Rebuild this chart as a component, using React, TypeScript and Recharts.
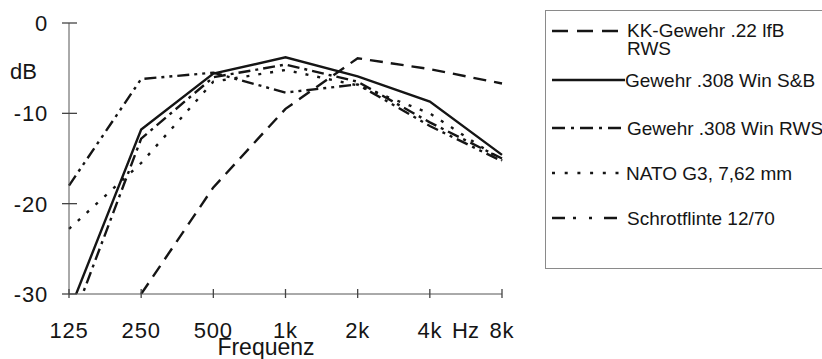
import React from 'react';
import { LineChart, Line, XAxis, YAxis, Label } from 'recharts';

const frequencies = ['125', '250', '500', '1k', '2k', '4k', '8k'];
const kkRws = [null, -30, -18.2, -9.5, -3.9, -5.1, -6.7];
const winSB = [-32, -11.8, -5.6, -3.8, -5.9, -8.7, -14.6];
const winRws = [-34, -12.8, -6.0, -4.6, -6.5, -11.0, -15.0];
const nato = [-22.8, -15.5, -6.5, -5.2, -6.9, -10.0, -15.2];
const schrot = [-18, -6.2, -5.5, -7.7, -6.8, -11.4, -15.3];
const yTicks = [-30, -20, -10, 0];

const seriesNames = [
  'KK-Gewehr .22 lfB RWS',
  'Gewehr .308 Win S&B',
  'Gewehr .308 Win RWS',
  'NATO G3, 7,62 mm',
  'Schrotflinte 12/70',
];
const seriesKeys = ['kk', 'sb', 'rws', 'nato', 'schrot'];
const seriesValues = [kkRws, winSB, winRws, nato, schrot];
const legendLines = [
  ['KK-Gewehr .22 lfB', 'RWS'],
  ['Gewehr .308 Win S&B'],
  ['Gewehr .308 Win RWS'],
  ['NATO G3, 7,62 mm'],
  ['Schrotflinte 12/70'],
];

// styles
const lineDash = ['13 8', undefined, '12 5 3 5', '3 9', '12 5 3 5 3 5'];
const legendDash = ['16 9', undefined, '13 6 3 6', '3 9.7', '13 8 3 13 3 12'];
const legendY = [31, 80, 128, 173, 218];
const legendTextDy = [6, 7, 7, 7, 7];
const legendX2 = [618, 625, 622, 623, 618];
const legendTextX = [627, 625, 627, 626, 627];

const data = frequencies.map((f, i) => {
  const row: Record<string, any> = { freq: f };
  seriesKeys.forEach((k, j) => {
    row[k] = seriesValues[j][i];
  });
  return row;
});

const FONT = '"Liberation Sans", Arial, Helvetica, sans-serif';
const AXIS = '#555555';
const INK = '#151515';

function XTick(props: any) {
  const { x, y, payload } = props;
  return (
    <g className="x-tick">
      <path d={`M${x},${y - 5}L${x},${y + 4}`} stroke="#444" strokeWidth={1.3} fill="none" />
      <text x={x} y={y + 44} textAnchor="middle" fontSize={22} letterSpacing={0.8} fill={INK} fontFamily={FONT}>
        {payload.value}
      </text>
    </g>
  );
}

function YTick(props: any) {
  const { x, y, payload } = props;
  return (
    <g className="y-tick">
      <path d={`M${x - 7},${y}L${x + 8},${y}`} stroke="#444" strokeWidth={1.3} fill="none" />
      <text x={x - 21} y={y + 8} textAnchor="end" fontSize={22} letterSpacing={0.8} fill={INK} fontFamily={FONT}>
        {payload.value}
      </text>
    </g>
  );
}

const YLabel = (props: any) => {
  const vb = props.viewBox || {};
  return (
    <text x={vb.x + 1} y={vb.y + 56} fontSize={22} fill={INK} fontFamily={FONT}>
      dB
    </text>
  );
};

const XLabel = (props: any) => {
  const vb = props.viewBox || {};
  return (
    <g>
      <text x={vb.x + 197} y={vb.y + 61} textAnchor="middle" fontSize={23} fill={INK} fontFamily={FONT}>
        Frequenz
      </text>
      <text x={vb.x + 383} y={vb.y + 44} textAnchor="start" fontSize={22} fill={INK} fontFamily={FONT}>
        Hz
      </text>
    </g>
  );
};

const LegendBox = () => (
  <svg width={822} height={359} style={{ position: 'absolute', left: 0, top: 0, pointerEvents: 'none' }}>
    <rect x={545.5} y={10.5} width={300} height={258} fill="none" stroke="#8a8a8a" strokeWidth={1} />
    {seriesNames.map((name, i) => (
      <g key={name}>
        <line
          x1={552}
          x2={legendX2[i]}
          y1={legendY[i]}
          y2={legendY[i]}
          stroke={INK}
          strokeWidth={2.6}
          strokeDasharray={legendDash[i]}
        />
        <text x={legendTextX[i]} y={legendY[i] + legendTextDy[i]} fontSize={19} fill={INK} fontFamily={FONT}>
          {legendLines[i].map((ln, k) => (
            <tspan key={k} x={legendTextX[i]} dy={k === 0 ? 0 : 18}>
              {ln}
            </tspan>
          ))}
        </text>
      </g>
    ))}
  </svg>
);

export default function App() {
  return (
    <div style={{ position: 'absolute', left: 0, top: 0, width: 822, height: 359, background: '#fff' }}>
      <LineChart width={822} height={359} data={data} margin={{ top: 23, right: 320, bottom: 25, left: 9 }}>
        <XAxis
          dataKey="freq"
          scale="point"
          padding={{ left: 0, right: 0 }}
          interval={0}
          height={40}
          tickSize={0}
          tickMargin={0}
          tickLine={false}
          axisLine={{ stroke: AXIS, strokeWidth: 1 }}
          tick={(p: any) => <XTick {...p} />}
        >
          <Label content={<XLabel />} />
        </XAxis>
        <YAxis
          type="number"
          domain={[-30, 0]}
          allowDataOverflow
          ticks={yTicks}
          interval={0}
          width={60}
          tickSize={0}
          tickMargin={0}
          tickLine={false}
          axisLine={{ stroke: AXIS, strokeWidth: 1 }}
          tick={(p: any) => <YTick {...p} />}
        >
          <Label content={<YLabel />} />
        </YAxis>
        {seriesKeys.map((k, i) => (
          <Line
            key={k}
            type="linear"
            dataKey={k}
            name={seriesNames[i]}
            stroke={INK}
            strokeWidth={2.4}
            strokeDasharray={lineDash[i]}
            dot={false}
            activeDot={false}
            connectNulls={false}
            isAnimationActive={false}
          />
        ))}
      </LineChart>
      <LegendBox />
    </div>
  );
}
